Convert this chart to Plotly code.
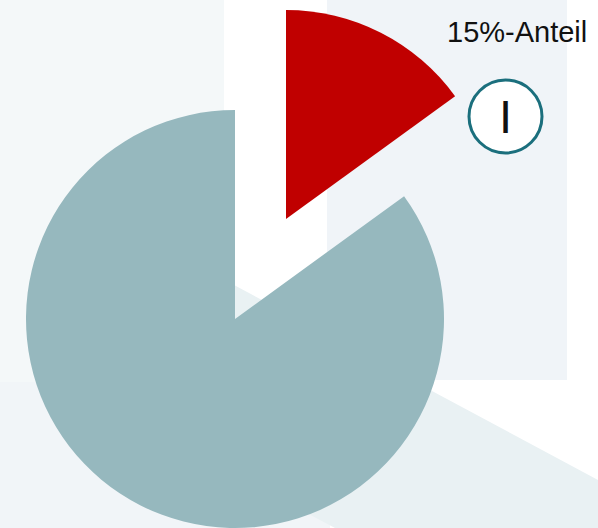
import plotly.graph_objects as go

# Share data
labels = ["Anteil", "Rest"]
values = [15, 85]
slice_colors = ["#C00000", "#96B8BE"]
share_label = "15%-Anteil"
badge_label = "I"

W, H = 598, 528


def px(x):
    return x / W


def py(y):
    return 1 - y / H


def dom(cx, cy, r):
    return dict(
        x=[max(0, px(cx - r)), min(1, px(cx + r))],
        y=[max(0, py(cy + r)), min(1, py(cy - r))],
    )


transparent = "rgba(0,0,0,0)"

fig = go.Figure()

# main body of the pie (highlighted share left empty)
fig.add_trace(go.Pie(
    labels=labels, values=values, sort=False, direction="clockwise", rotation=0,
    marker=dict(colors=[transparent, slice_colors[1]], line=dict(width=0)),
    textinfo="none", hoverinfo="label+percent", showlegend=False,
    domain=dom(235, 319, 209),
))

# highlighted share, pulled out towards the upper right
fig.add_trace(go.Pie(
    labels=labels, values=values, sort=False, direction="clockwise", rotation=0,
    marker=dict(colors=[slice_colors[0], transparent], line=dict(width=0)),
    textinfo="none", hoverinfo="label+percent", showlegend=False,
    domain=dom(286, 219, 209),
))


def rect(x0, y0, x1, y1, color):
    return dict(type="rect", xref="paper", yref="paper",
                x0=px(x0), x1=px(x1), y0=py(y1), y1=py(y0),
                fillcolor=color, line=dict(width=0), layer="below")


def poly(points, color):
    path = "M " + " L ".join(f"{px(x):.5f},{py(y):.5f}" for x, y in points) + " Z"
    return dict(type="path", xref="paper", yref="paper", path=path,
                fillcolor=color, line=dict(width=0), layer="below")


shapes = [
    rect(0, 0, 224, 382, "#F4F8F9"),
    rect(327, 0, 567, 380, "#F0F4F8"),
    rect(0, 382, 330, 528, "#F1F5F8"),
    poly([(150, 240), (598, 480), (598, 528), (335, 528), (150, 430)], "#E9F1F3"),
    dict(type="circle", xref="paper", yref="paper",
         x0=px(469), x1=px(542), y0=py(153), y1=py(80),
         fillcolor="white", line=dict(color="#1B6F7D", width=3), layer="above"),
]

fig.update_layout(
    width=W, height=H,
    margin=dict(l=0, r=0, t=0, b=0),
    paper_bgcolor="white", plot_bgcolor="white",
    shapes=shapes,
    annotations=[
        dict(text=share_label, xref="paper", yref="paper", x=px(516.5), y=py(32),
             xanchor="center", yanchor="middle", showarrow=False,
             font=dict(family="Arial, Liberation Sans", size=29, color="#111111")),
        dict(text=badge_label, xref="paper", yref="paper", x=px(505.5), y=py(117),
             xanchor="center", yanchor="middle", showarrow=False,
             font=dict(family="Arial, Liberation Sans", size=47, color="#111111")),
    ],
)

fig.write_html("out.html")
